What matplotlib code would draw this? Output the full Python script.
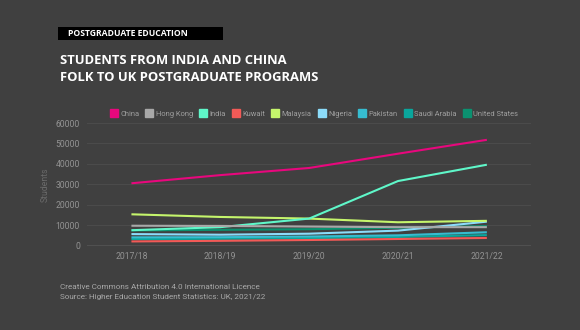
import matplotlib.pyplot as plt
from matplotlib.patches import Rectangle
from matplotlib.lines import Line2D

plt.rcParams['font.family'] = ['Roboto', 'DejaVu Sans']

years = ['2017/18', '2018/19', '2019/20', '2020/21', '2021/22']

countries = ['China', 'Hong Kong', 'India', 'Kuwait', 'Malaysia',
             'Nigeria', 'Pakistan', 'Saudi Arabia', 'United States']

china = [30500, 34500, 38000, 45000, 51800]
hong_kong = [9700, 9600, 9300, 9000, 9000]
india = [7500, 9000, 13200, 31600, 39600]
kuwait = [2000, 2300, 2700, 3200, 3700]
malaysia = [15300, 14000, 13200, 11400, 12100]
nigeria = [5600, 5300, 5800, 7300, 11700]
pakistan = [4000, 4100, 4400, 5000, 6500]
saudi_arabia = [3200, 3300, 3600, 4200, 5100]
united_states = [7400, 7700, 8000, 8700, 9500]

series = [china, hong_kong, india, kuwait, malaysia,
          nigeria, pakistan, saudi_arabia, united_states]
colors = ['#e8077d', '#a8a8a8', '#5ff7c9', '#f25a57', '#c5f56c',
          '#8cdcfa', '#36bcd0', '#0aa69c', '#0b9170']

bg = '#404040'
fig = plt.figure(figsize=(5.8, 3.3), dpi=100, facecolor=bg)
ax = fig.add_axes([0.15, 0.256, 0.766, 0.371], facecolor=bg)

x = list(range(len(years)))
# draw in reverse so China stays on top
for vals, c in reversed(list(zip(series, colors))):
    ax.plot(x, vals, color=c, lw=1.5, solid_capstyle='butt')

ax.set_xlim(-0.5, 4.5)
ax.set_ylim(0, 60000)
ax.set_yticks(range(0, 60001, 10000))
ax.set_xticks(x)
ax.set_xticklabels(years)
ax.tick_params(colors='#939393', labelsize=6.2, length=0, pad=5)
ax.grid(axis='y', color='#4b4b4b', lw=0.8)
ax.set_axisbelow(True)
for s in ax.spines.values():
    s.set_visible(False)
ax.axhline(0, color='#555555', lw=1.2, zorder=0.5)
ax.set_ylabel('Students', color='#6a6a6a', fontsize=6.2, labelpad=4)

handles = [Line2D([], [], marker='s', ls='none', markersize=5.5,
                  markerfacecolor=c, markeredgecolor=c) for c in colors]
fig.legend(handles, countries, loc='center left', bbox_to_anchor=(110 / 580, 1 - 114 / 330),
           ncol=9, frameon=False, fontsize=5.4, labelcolor='#a0a0a0',
           handlelength=1.0, handletextpad=0.35, columnspacing=0.85,
           borderpad=0, borderaxespad=0)

# tag box
fig.patches.append(Rectangle((58 / 580, 1 - 39.5 / 330), 165 / 580, 12.5 / 330,
                             transform=fig.transFigure, facecolor='black',
                             edgecolor='none'))
fig.text(128 / 580, 1 - 33 / 330, 'POSTGRADUATE EDUCATION',
         color='white', fontsize=6.2, fontweight='bold', ha='center', va='center',
         family='Open Sans')

fig.text(60 / 580, 1 - 60 / 330, 'STUDENTS FROM INDIA AND CHINA',
         color='white', fontsize=9.4, fontweight='bold', ha='left', va='center',
         family='Open Sans')
fig.text(60 / 580, 1 - 77 / 330, 'FOLK TO UK POSTGRADUATE PROGRAMS',
         color='white', fontsize=9.4, fontweight='bold', ha='left', va='center',
         family='Open Sans')

fig.text(60 / 580, 1 - 287 / 330, 'Creative Commons Attribution 4.0 International Licence',
         color='#a8a8a8', fontsize=5.9, ha='left', va='center')
fig.text(60 / 580, 1 - 297.5 / 330, 'Source: Higher Education Student Statistics: UK, 2021/22',
         color='#a8a8a8', fontsize=5.9, ha='left', va='center')

fig.savefig('out.png', dpi=100, facecolor=bg)
